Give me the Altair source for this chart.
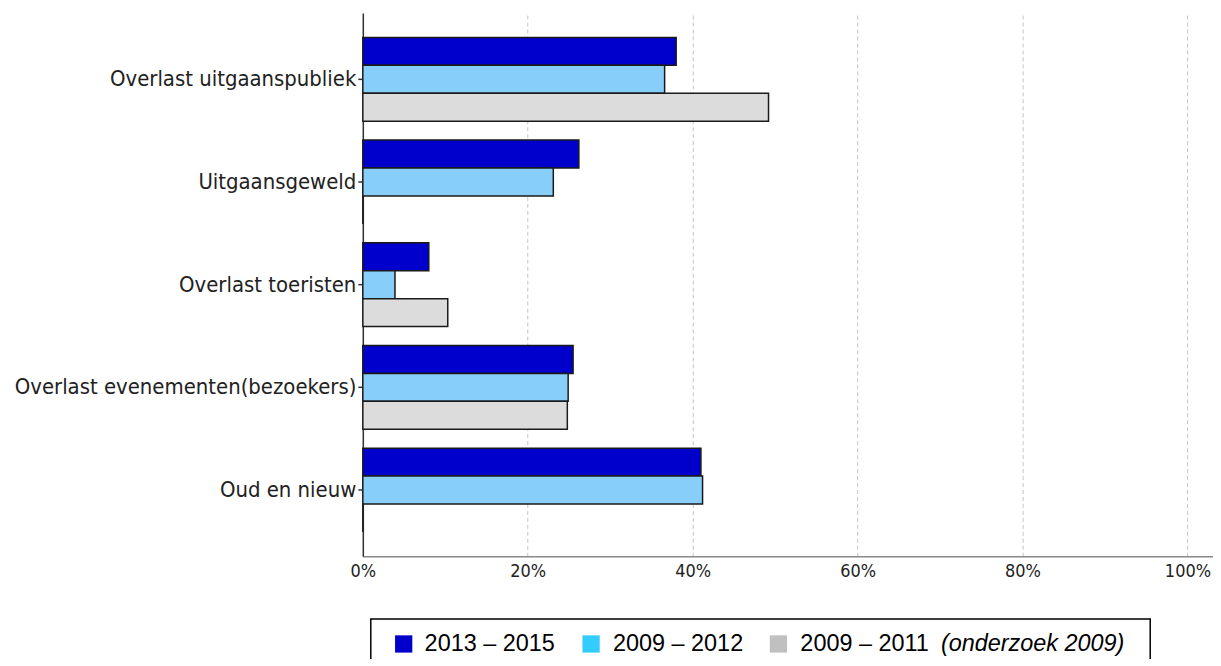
import altair as alt
import pandas as pd

# ---- data ----
categories = [
    "Overlast uitgaanspubliek",
    "Uitgaansgeweld",
    "Overlast toeristen",
    "Overlast evenementen(bezoekers)",
    "Oud en nieuw",
]
series = ["2013 – 2015", "2009 – 2012", "2009 – 2011"]
v_2013_2015 = [38.0, 26.2, 8.0, 25.5, 41.0]
v_2009_2012 = [36.6, 23.1, 3.9, 24.9, 41.2]
v_2009_2011 = [49.2, 0.0, 10.3, 24.8, 0.0]
tick_values = [0, 20, 40, 60, 80, 100]

bar_colors = ["#0000CC", "#87CEFA", "#DCDCDC"]
legend_colors = ["#0000CC", "#33CCFF", "#C0C0C0"]
legend_note = "(onderzoek 2009)"

rows = []
for i, c in enumerate(categories):
    for s, vals in zip(series, [v_2013_2015, v_2009_2012, v_2009_2011]):
        rows.append({"cat": c, "series": s, "value": vals[i]})
df = pd.DataFrame(rows)

W = 853
H = 545
XMAX = 103.1
LABEL_FONT = "DejaVu Sans Condensed"

bars = alt.Chart(df).mark_bar(stroke="#1a1a1a", strokeWidth=1.5).encode(
    y=alt.Y(
        "cat:N", sort=categories, title=None,
        scale=alt.Scale(paddingInner=0.184, paddingOuter=0.237),
        axis=alt.Axis(
            domainColor="#333333", domainWidth=1.5, tickColor="#333333", tickSize=5,
            tickWidth=1.5, labelFont=LABEL_FONT, labelFontSize=22, labelColor="#222222",
            labelPadding=2, labelLimit=0, minExtent=346, maxExtent=346, grid=False,
        ),
    ),
    yOffset=alt.YOffset("series:N", sort=series,
                        scale=alt.Scale(paddingInner=0, paddingOuter=0)),
    x=alt.X(
        "value:Q", title=None,
        scale=alt.Scale(domain=[0, XMAX], nice=False, zero=True),
        axis=alt.Axis(
            values=tick_values, labelExpr="datum.value + '%'", grid=True,
            gridDash=[4, 3], gridColor="#c4c4c4", gridWidth=1,
            domainColor="#888888", domainWidth=1.5, ticks=False, labelPadding=6,
            labelFlush=False, labelFont=LABEL_FONT, labelFontSize=18,
            labelColor="#222222", minExtent=22, maxExtent=22,
        ),
    ),
    fill=alt.Fill("series:N", sort=series,
                  scale=alt.Scale(domain=series, range=bar_colors), legend=None),
).properties(width=W, height=H)

# ---- custom legend (positions are layout offsets from the plot's left edge) ----
leg_df = pd.DataFrame({
    "label": series,
    "color": legend_colors,
    "sq_x": [41, 229, 417],
    "txt_x": [62, 251, 439],
})
note_df = pd.DataFrame({"label": [legend_note], "txt_x": [580]})
LY = 26
xs = alt.Scale(domain=[0, W], nice=False, zero=True)

box = alt.Chart(leg_df.head(1)).mark_rect(
    fill="white", stroke="black", strokeWidth=1.5, clip=True
).encode(x=alt.value(8), x2=alt.value(790), y=alt.value(1), y2=alt.value(90))

squares = alt.Chart(leg_df).mark_square(size=300, opacity=1).encode(
    x=alt.X("sq_x:Q", scale=xs, axis=None),
    y=alt.value(LY),
    color=alt.Color("color:N", scale=None),
)
texts = alt.Chart(leg_df).mark_text(
    align="left", baseline="middle", font="Liberation Sans", fontSize=23.5, color="black"
).encode(x=alt.X("txt_x:Q", scale=xs, axis=None), y=alt.value(LY), text="label:N")
note = alt.Chart(note_df).mark_text(
    align="left", baseline="middle", font="Liberation Sans", fontSize=23.5,
    fontStyle="italic", color="black"
).encode(x=alt.X("txt_x:Q", scale=xs, axis=None), y=alt.value(LY), text="label:N")

legend = alt.layer(box, squares, texts, note).properties(width=W, height=41)

chart = alt.vconcat(bars, legend, spacing=38).properties(
    padding={"left": 5, "top": 4, "right": 0, "bottom": 0},
    background="white",
).configure_view(strokeWidth=0)

chart.save("out.html", embed_options={"renderer": "svg", "actions": False})
